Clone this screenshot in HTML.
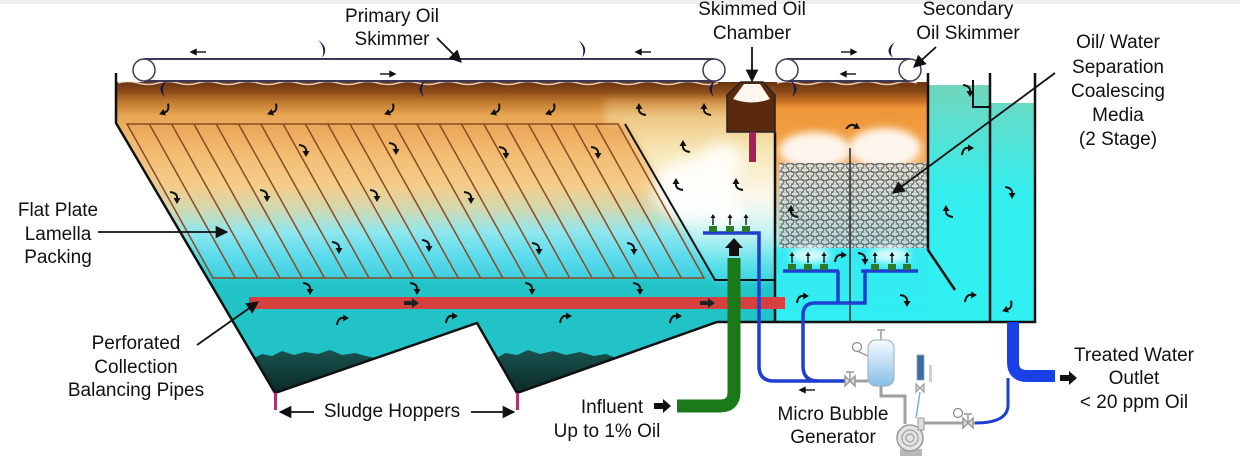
<!DOCTYPE html>
<html><head><meta charset="utf-8">
<style>
html,body{margin:0;padding:0;background:#fff;width:1240px;height:472px;overflow:hidden}
svg{display:block}
text{font-family:"Liberation Sans",Arial,sans-serif;font-size:19px;fill:#111}
</style></head><body>
<svg width="1240" height="472" viewBox="0 0 1240 472" xmlns="http://www.w3.org/2000/svg">
<defs>
 <linearGradient id="gMain" x1="0" y1="82" x2="0" y2="393" gradientUnits="userSpaceOnUse">
  <stop offset="0" stop-color="#6a3310"/>
  <stop offset=".032" stop-color="#8e4e18"/>
  <stop offset=".064" stop-color="#c07a30"/>
  <stop offset=".106" stop-color="#e6a450"/>
  <stop offset=".17" stop-color="#eeb870"/>
  <stop offset=".3" stop-color="#f0c888"/>
  <stop offset=".41" stop-color="#d6d8b4"/>
  <stop offset=".51" stop-color="#7fe2ea"/>
  <stop offset=".6" stop-color="#3ad2de"/>
  <stop offset=".65" stop-color="#22c4c8"/>
  <stop offset="1" stop-color="#20c2c6"/>
 </linearGradient>
 <linearGradient id="gLam" x1="0" y1="124" x2="0" y2="278" gradientUnits="userSpaceOnUse">
  <stop offset="0" stop-color="#eaa558"/>
  <stop offset=".2" stop-color="#f2bd72"/>
  <stop offset=".4" stop-color="#f4cd8a"/>
  <stop offset=".55" stop-color="#d2d8b0"/>
  <stop offset=".7" stop-color="#8fe6ee"/>
  <stop offset=".85" stop-color="#5edcec"/>
  <stop offset="1" stop-color="#3fd0e0"/>
 </linearGradient>
 <linearGradient id="gRight" x1="0" y1="100" x2="0" y2="280" gradientUnits="userSpaceOnUse">
  <stop offset="0" stop-color="#cf8c42"/>
  <stop offset=".1" stop-color="#efcb88"/>
  <stop offset=".3" stop-color="#f7e8b8"/>
  <stop offset=".55" stop-color="#fbf8ee"/>
  <stop offset=".75" stop-color="#bff2f2"/>
  <stop offset=".9" stop-color="#60e2ea"/>
  <stop offset="1" stop-color="#3cd6e0"/>
 </linearGradient>
 <linearGradient id="gCoal" x1="0" y1="82" x2="0" y2="322" gradientUnits="userSpaceOnUse">
  <stop offset="0" stop-color="#6a3310"/>
  <stop offset=".042" stop-color="#8a4a16"/>
  <stop offset=".075" stop-color="#c06a20"/>
  <stop offset=".108" stop-color="#ee9638"/>
  <stop offset=".283" stop-color="#f3a246"/>
  <stop offset=".346" stop-color="#f0b070"/>
  <stop offset=".66" stop-color="#b0e8e8"/>
  <stop offset=".7" stop-color="#35eaf2"/>
  <stop offset="1" stop-color="#30eef2"/>
 </linearGradient>
 <linearGradient id="gClear" x1="0" y1="85" x2="0" y2="322" gradientUnits="userSpaceOnUse">
  <stop offset="0" stop-color="#72d6bc"/>
  <stop offset=".45" stop-color="#34eeee"/>
  <stop offset="1" stop-color="#30f0f2"/>
 </linearGradient>
 <linearGradient id="gMesh" x1="0" y1="163" x2="0" y2="248" gradientUnits="userSpaceOnUse">
  <stop offset="0" stop-color="#e2ded2"/>
  <stop offset="1" stop-color="#b6dede"/>
 </linearGradient>
 <linearGradient id="gSludge" x1="0" y1="350" x2="0" y2="393" gradientUnits="userSpaceOnUse">
  <stop offset="0" stop-color="#1a524e"/>
  <stop offset="1" stop-color="#0a2a28"/>
 </linearGradient>
 <linearGradient id="gTank" x1="0" y1="0" x2="0" y2="1">
  <stop offset="0" stop-color="#f6fbff"/>
  <stop offset="1" stop-color="#86c0e8"/>
 </linearGradient>
 <pattern id="mesh" width="10" height="8" patternUnits="userSpaceOnUse">
  <ellipse cx="5" cy="2" rx="4" ry="2.3" fill="none" stroke="#565656" stroke-width=".9"/>
  <ellipse cx="0" cy="6" rx="4" ry="2.3" fill="none" stroke="#565656" stroke-width=".9"/>
  <ellipse cx="10" cy="6" rx="4" ry="2.3" fill="none" stroke="#565656" stroke-width=".9"/>
 </pattern>
 <filter id="blur" x="-50%" y="-50%" width="200%" height="200%"><feGaussianBlur stdDeviation="7"/></filter>
 <filter id="blur2" x="-50%" y="-50%" width="200%" height="200%"><feGaussianBlur stdDeviation="4"/></filter>
 <filter id="blur3" x="-10%" y="-10%" width="120%" height="120%"><feGaussianBlur stdDeviation="4"/></filter>
 <clipPath id="tankClip"><path d="M116,82 L775,82 L775,322 L717,322 L517,393 L477,323 L275,393 L116,123 Z"/></clipPath>
 <marker id="ah" viewBox="0 0 10 10" refX="9" refY="5" markerWidth="7" markerHeight="7" orient="auto-start-reverse">
  <path d="M0,0 L10,5 L0,10 Z" fill="#111"/>
 </marker>
 <g id="ca"><path d="M-5,-5 Q3,-4 2,2" fill="none" stroke="#111" stroke-width="2"/><path d="M-1.5,1 L5.5,1 L2,7 Z" fill="#111"/></g>
 <g id="up"><line x1="0" y1="0" x2="0" y2="-9" stroke="#111" stroke-width="1.4"/><path d="M-2.5,-7 L2.5,-7 L0,-11 Z" fill="#111"/></g>
</defs>

<rect x="0" y="0" width="1240" height="4" fill="#eeeeee"/>

<!-- main tank water -->
<path d="M116,82 L775,82 L775,322 L717,322 L517,393 L477,323 L275,393 L116,123 Z" fill="url(#gMain)"/>
<!-- lamella region fill -->
<path d="M127,124 L618,124 L704,278 L213,278 Z" fill="url(#gLam)"/>
<!-- right zone -->
<g clip-path="url(#tankClip)">
 <path d="M605,100 L780,100 L780,282 L715,282 L626,124 L605,124 Z" fill="url(#gRight)" filter="url(#blur3)"/>
 <ellipse cx="695" cy="190" rx="42" ry="32" fill="#fff" opacity=".85" filter="url(#blur)"/>
 <ellipse cx="722" cy="160" rx="22" ry="18" fill="#fff" opacity=".8" filter="url(#blur)"/>
 <ellipse cx="728" cy="215" rx="18" ry="12" fill="#fff" opacity=".8" filter="url(#blur2)"/>
</g>

<!-- sludge -->
<path d="M254,358 L262,354 L272,356 L282,351 L294,355 L305,352 L318,354 L330,350 L342,355 L355,353 L366,356 L375,358 L275,393 Z" fill="url(#gSludge)"/>
<path d="M497,358 L505,353 L517,355 L528,350 L540,354 L553,351 L566,355 L580,352 L594,356 L606,354 L616,358 L517,393 Z" fill="url(#gSludge)"/>

<!-- coalescing compartment -->
<rect x="775" y="82" width="153" height="240" fill="url(#gCoal)"/>
<ellipse cx="815" cy="150" rx="36" ry="18" fill="#fff" opacity=".9" filter="url(#blur2)"/>
<ellipse cx="885" cy="148" rx="36" ry="20" fill="#fff" opacity=".9" filter="url(#blur2)"/>
<rect x="779" y="163" width="148" height="85" fill="url(#gMesh)"/>
<rect x="779" y="163" width="148" height="85" fill="url(#mesh)"/>
<ellipse cx="810" cy="255" rx="20" ry="8" fill="#fff" opacity=".8" filter="url(#blur2)"/>
<ellipse cx="890" cy="255" rx="20" ry="8" fill="#fff" opacity=".8" filter="url(#blur2)"/>

<!-- clear water compartments -->
<rect x="928" y="85" width="62" height="237" fill="url(#gClear)"/>
<rect x="990" y="103" width="45" height="219" fill="url(#gClear)"/>

<!-- oil surface waves -->
<path d="M118,83 q10,-3 20,0 t20,0 t20,0 t20,0 t20,0 t20,0 t20,0 t20,0 t20,0 t20,0 t20,0 t20,0 t20,0 t20,0 t20,0 t20,0 t20,0 t20,0 t20,0 t20,0 t20,0 t20,0 t20,0 t20,0 t20,0 t20,0 t20,0 t20,0 t20,0 t20,0" fill="none" stroke="#fbeee0" stroke-width="1.5" opacity=".8"/>
<path d="M777,83 q10,-3 20,0 t20,0 t20,0 t20,0 t20,0 t20,0 t20,0" fill="none" stroke="#fbeee0" stroke-width="1.5" opacity=".8"/>

<!-- lamella plates -->
<g stroke="#8b4a22" stroke-width="1.5" fill="none">
 <path d="M127,124 L618,124 L704,278 L213,278 Z"/>
 <line x1="149.3" y1="124" x2="235.3" y2="278"/>
 <line x1="171.6" y1="124" x2="257.6" y2="278"/>
 <line x1="193.9" y1="124" x2="279.9" y2="278"/>
 <line x1="216.2" y1="124" x2="302.2" y2="278"/>
 <line x1="238.5" y1="124" x2="324.5" y2="278"/>
 <line x1="260.8" y1="124" x2="346.8" y2="278"/>
 <line x1="283.1" y1="124" x2="369.1" y2="278"/>
 <line x1="305.4" y1="124" x2="391.4" y2="278"/>
 <line x1="327.7" y1="124" x2="413.7" y2="278"/>
 <line x1="350" y1="124" x2="436" y2="278"/>
 <line x1="372.3" y1="124" x2="458.3" y2="278"/>
 <line x1="394.6" y1="124" x2="480.6" y2="278"/>
 <line x1="416.9" y1="124" x2="502.9" y2="278"/>
 <line x1="439.2" y1="124" x2="525.2" y2="278"/>
 <line x1="461.5" y1="124" x2="547.5" y2="278"/>
 <line x1="483.8" y1="124" x2="569.8" y2="278"/>
 <line x1="506.1" y1="124" x2="592.1" y2="278"/>
 <line x1="528.4" y1="124" x2="614.4" y2="278"/>
 <line x1="550.7" y1="124" x2="636.7" y2="278"/>
 <line x1="573" y1="124" x2="659" y2="278"/>
 <line x1="595.3" y1="124" x2="681.3" y2="278"/>
</g>

<!-- walls -->
<g stroke="#111" stroke-width="2.5" fill="none" stroke-linejoin="miter">
 <path d="M116,73 L116,123 L275,393 L477,323 L517,393 L717,322 L1035,322 L1035,73"/>
 <path d="M775,132 L775,322"/>
 <path d="M928,73 L928,250 L955,290"/>
 <path d="M990,73 L990,322"/>
 <path d="M625,124 L715,280 L775,280" stroke-width="2"/>
 <path d="M973,80 L973,107 L990,107" stroke-width="2"/>
</g>
<line x1="850" y1="148" x2="850" y2="322" stroke="#333" stroke-width="1.6"/>

<!-- skimmed oil chamber -->
<path d="M727,132 L727,95 L741,82 L763,82 L775,95 L775,132 Z" fill="#5b2a0e" stroke="#222" stroke-width="1.5"/>
<path d="M733,99 L744,84 L760,84 L770,99 Q752,106 733,99 Z" fill="#fff6ee"/>
<rect x="749" y="132" width="7" height="30" fill="#a3205c"/>

<!-- red perforated pipe -->
<rect x="249" y="297" width="536" height="12" fill="#d6413f"/>

<!-- blue pipes -->
<g stroke="#1e3fd0" stroke-width="3.5" fill="none">
 <path d="M703,233 L759,233 L759,366 Q759,381 774,381 L845,381"/>
 <path d="M783,271 L839,271"/>
 <path d="M861,271 L918,271"/>
 <path d="M838,271 L838,303"/>
 <path d="M865,271 L865,303 L815,303 Q803,303 803,315 L803,366 Q803,381 818,381"/>
 <path d="M975,423 Q1008,423 1008,405 L1008,378" stroke-width="3"/>
</g>

<!-- diffuser heads -->
<g fill="#2c7a2c">
 <rect x="709" y="226" width="8" height="6"/><rect x="726" y="226" width="8" height="6"/><rect x="742" y="226" width="8" height="6"/>
 <rect x="788" y="264" width="8" height="6"/><rect x="804" y="264" width="8" height="6"/><rect x="820" y="264" width="8" height="6"/>
 <rect x="871" y="264" width="8" height="6"/><rect x="888" y="264" width="8" height="6"/><rect x="903" y="264" width="8" height="6"/>
</g>
<use href="#up" transform="translate(713,225)"/><use href="#up" transform="translate(730,225)"/><use href="#up" transform="translate(746,225)"/>
<use href="#up" transform="translate(792,263)"/><use href="#up" transform="translate(808,263)"/><use href="#up" transform="translate(824,263)"/>
<use href="#up" transform="translate(875,263)"/><use href="#up" transform="translate(892,263)"/><use href="#up" transform="translate(907,263)"/>

<!-- influent green pipe -->
<path d="M734,258 L734,392 Q734,406 720,406 L677,406" stroke="#1a7a1a" stroke-width="13" fill="none"/>
<path d="M729,256 L739,256 L739,248 L743,248 L734,238 L725,248 L729,248 Z" fill="#111"/>

<!-- outlet pipe -->
<path d="M1013,322 L1013,362 Q1013,376 1027,376 L1055,376" stroke="#1a40e8" stroke-width="12" fill="none"/>

<!-- block arrows -->
<path d="M654,403 L663,403 L663,399 L671,406 L663,413 L663,409 L654,409 Z" fill="#111"/>
<path d="M1060,375 L1069,375 L1069,371 L1077,378 L1069,385 L1069,381 L1060,381 Z" fill="#111"/>
<path d="M404,301 L412,301 L412,298 L419,303 L412,308 L412,305 L404,305 Z" fill="#222"/>
<path d="M700,301 L708,301 L708,298 L715,303 L708,308 L708,305 L700,305 Z" fill="#222"/>

<!-- sludge outlets -->
<rect x="274" y="393" width="3" height="17" fill="#b03070"/>
<rect x="516" y="393" width="3" height="17" fill="#b03070"/>

<!-- skimmer belts -->
<rect x="144" y="59" width="570" height="22" fill="#fff"/>
<line x1="144" y1="59" x2="714" y2="59" stroke="#3a3a58" stroke-width="2"/>
<line x1="144" y1="81" x2="714" y2="81" stroke="#3a3a58" stroke-width="2"/>
<circle cx="144" cy="70" r="11" fill="#fff" stroke="#3a3a58" stroke-width="1.5"/>
<circle cx="714" cy="70" r="11" fill="#fff" stroke="#3a3a58" stroke-width="1.5"/>
<rect x="787" y="59" width="123" height="22" fill="#fff"/>
<line x1="787" y1="59" x2="910" y2="59" stroke="#3a3a58" stroke-width="2"/>
<line x1="787" y1="81" x2="910" y2="81" stroke="#3a3a58" stroke-width="2"/>
<circle cx="787" cy="70" r="11" fill="#fff" stroke="#3a3a58" stroke-width="1.5"/>
<circle cx="910" cy="70" r="11" fill="#fff" stroke="#3a3a58" stroke-width="1.5"/>

<!-- belt small arrows -->
<g stroke="#111" stroke-width="1.4" fill="#111">
 <line x1="193" y1="52" x2="206" y2="52"/><path d="M191,52 L196,49.5 L196,54.5 Z"/>
 <line x1="638" y1="52" x2="651" y2="52"/><path d="M636,52 L641,49.5 L641,54.5 Z"/>
 <line x1="380" y1="74" x2="393" y2="74"/><path d="M395,74 L390,71.5 L390,76.5 Z"/>
 <line x1="841" y1="52" x2="854" y2="52"/><path d="M856,52 L851,49.5 L851,54.5 Z"/>
 <line x1="843" y1="74" x2="856" y2="74"/><path d="M841,74 L846,71.5 L846,76.5 Z"/>
 <line x1="802" y1="390" x2="815" y2="390"/><path d="M800,390 L805,387.5 L805,392.5 Z"/>
</g>

<!-- crescents -->
<g fill="#1a1a4a">
 <path d="M318,40 Q330,48 322,58 Q326,48 318,40 Z"/>
 <path d="M578,40 Q590,48 582,58 Q586,48 578,40 Z"/>
 <path d="M167,80 Q155,88 165,97 Q160,88 167,80 Z"/>
 <path d="M426,80 Q414,88 424,97 Q419,88 426,80 Z"/>
 <path d="M716,80 Q704,88 714,97 Q709,88 716,80 Z"/>
 <path d="M790,80 Q802,88 792,97 Q797,88 790,80 Z"/>
 <path d="M895,42 Q883,50 893,58 Q888,50 895,42 Z"/>
</g>

<!-- flow arrows -->
<g>
 <use href="#ca" transform="translate(165,110) rotate(70)"/>
 <use href="#ca" transform="translate(273,110) rotate(70)"/>
 <use href="#ca" transform="translate(390,110) rotate(70)"/>
 <use href="#ca" transform="translate(496,110) rotate(70)"/>
 <use href="#ca" transform="translate(551,110) rotate(70)"/>
 <use href="#ca" transform="translate(641,110) rotate(180)"/>
 <use href="#ca" transform="translate(706,110) rotate(180)"/>
 <use href="#ca" transform="translate(685,147) rotate(180)"/>
 <use href="#ca" transform="translate(678,185) rotate(180)"/>
 <use href="#ca" transform="translate(738,185) rotate(180)"/>
 <use href="#ca" transform="translate(304,150)"/>
 <use href="#ca" transform="translate(394,148)"/>
 <use href="#ca" transform="translate(504,152)"/>
 <use href="#ca" transform="translate(596,152)"/>
 <use href="#ca" transform="translate(175,197)"/>
 <use href="#ca" transform="translate(265,195)"/>
 <use href="#ca" transform="translate(375,195)"/>
 <use href="#ca" transform="translate(469,197)"/>
 <use href="#ca" transform="translate(337,247)"/>
 <use href="#ca" transform="translate(427,245)"/>
 <use href="#ca" transform="translate(537,248)"/>
 <use href="#ca" transform="translate(632,248)"/>
 <use href="#ca" transform="translate(308,288)"/>
 <use href="#ca" transform="translate(415,288)"/>
 <use href="#ca" transform="translate(530,288)"/>
 <use href="#ca" transform="translate(638,288)"/>
 <use href="#ca" transform="translate(342,320) rotate(-90)"/>
 <use href="#ca" transform="translate(451,318) rotate(-90)"/>
 <use href="#ca" transform="translate(565,318) rotate(-90)"/>
 <use href="#ca" transform="translate(675,318) rotate(-90)"/>
 <use href="#ca" transform="translate(853,127) rotate(-60)"/>
 <use href="#ca" transform="translate(793,212) rotate(180)"/>
 <use href="#ca" transform="translate(840,257) rotate(-90)"/>
 <use href="#ca" transform="translate(863,258)"/>
 <use href="#ca" transform="translate(802,298) rotate(-90)"/>
 <use href="#ca" transform="translate(905,300)"/>
 <use href="#ca" transform="translate(970,297) rotate(-90)"/>
 <use href="#ca" transform="translate(967,150) rotate(-90)"/>
 <use href="#ca" transform="translate(948,212) rotate(180)"/>
 <use href="#ca" transform="translate(1010,192)"/>
 <use href="#ca" transform="translate(1008,307) rotate(70)"/>
 <use href="#ca" transform="translate(968,90)"/>
</g>

<!-- micro bubble generator -->
<g stroke="#a0a0a0" stroke-width="3" fill="none">
 <line x1="845" y1="381" x2="868" y2="381"/>
 <path d="M881,386 L881,396 L905,396 L905,424"/>
 <line x1="922" y1="423" x2="975" y2="423"/>
</g>
<g stroke="#999" stroke-width="1.5" fill="#ddd">
 <path d="M845,376 L845,386 L855,376 L855,386 Z"/>
 <line x1="850" y1="381" x2="850" y2="372"/><line x1="846" y1="372" x2="854" y2="372"/>
 <path d="M963,418 L963,428 L973,418 L973,428 Z"/>
 <line x1="968" y1="423" x2="968" y2="414"/><line x1="964" y1="414" x2="972" y2="414"/>
 <line x1="857" y1="351" x2="868" y2="356" fill="none"/>
 <line x1="881" y1="340" x2="881" y2="330" fill="none"/><line x1="877" y1="330" x2="885" y2="330"/>
</g>
<rect x="868" y="340" width="26" height="46" rx="8" fill="url(#gTank)" stroke="#9ab" stroke-width="1"/>
<circle cx="857" cy="347" r="4.5" fill="#fff" stroke="#888" stroke-width="1.2"/>
<circle cx="958" cy="413" r="4.5" fill="#fff" stroke="#888" stroke-width="1.2"/>
<rect x="917" y="355" width="7" height="25" fill="#3a6aa8" stroke="#8aa" stroke-width=".8"/>
<path d="M916,384 L916,392 L924,384 L924,392 Z" fill="#ddd" stroke="#999" stroke-width="1.2"/>
<line x1="920" y1="392" x2="916" y2="418" stroke="#7ab0d8" stroke-width="1.5"/>
<rect x="929" y="365" width="3" height="17" fill="#cfcfcf"/>
<rect x="900" y="449" width="22" height="7" fill="#b8b8b8"/>
<circle cx="910" cy="438" r="13" fill="#e4e4e4" stroke="#999" stroke-width="1.5"/>
<circle cx="910" cy="438" r="8" fill="none" stroke="#aaa" stroke-width="1.5"/>
<circle cx="910" cy="438" r="4" fill="none" stroke="#aaa" stroke-width="1.5"/>
<rect x="918" y="418" width="6" height="12" fill="#ddd" stroke="#999" stroke-width="1"/>

<!-- label leader arrows -->
<g stroke="#111" stroke-width="1.8" fill="none">
 <line x1="437" y1="38" x2="461" y2="62" marker-end="url(#ah)"/>
 <line x1="752" y1="47" x2="752" y2="81" marker-end="url(#ah)"/>
 <line x1="936" y1="47" x2="914" y2="67" marker-end="url(#ah)"/>
 <line x1="1055" y1="73" x2="893" y2="193" marker-end="url(#ah)"/>
 <line x1="98" y1="232" x2="227" y2="232" marker-end="url(#ah)"/>
 <line x1="197" y1="345" x2="258" y2="302" marker-end="url(#ah)"/>
 <line x1="314" y1="412" x2="280" y2="412" marker-end="url(#ah)"/>
 <line x1="471" y1="412" x2="514" y2="412" marker-end="url(#ah)"/>
</g>

<!-- labels -->
<g text-anchor="middle">
 <text x="392" y="22">Primary Oil</text>
 <text x="392" y="45">Skimmer</text>
 <text x="752" y="15">Skimmed Oil</text>
 <text x="752" y="39">Chamber</text>
 <text x="968" y="15">Secondary</text>
 <text x="968" y="39">Oil Skimmer</text>
 <text x="1118" y="48">Oil/ Water</text>
 <text x="1118" y="73">Separation</text>
 <text x="1118" y="97">Coalescing</text>
 <text x="1118" y="121">Media</text>
 <text x="1118" y="145">(2 Stage)</text>
 <text x="58" y="216">Flat Plate</text>
 <text x="58" y="240">Lamella</text>
 <text x="58" y="263">Packing</text>
 <text x="136" y="349">Perforated</text>
 <text x="136" y="373">Collection</text>
 <text x="136" y="396">Balancing Pipes</text>
 <text x="392" y="417">Sludge Hoppers</text>
 <text x="612" y="413">Influent</text>
 <text x="607" y="437">Up to 1% Oil</text>
 <text x="833" y="420">Micro Bubble</text>
 <text x="833" y="443">Generator</text>
 <text x="1134" y="361">Treated Water</text>
 <text x="1134" y="384">Outlet</text>
 <text x="1134" y="408">&lt; 20 ppm Oil</text>
</g>
</svg>
</body></html>
